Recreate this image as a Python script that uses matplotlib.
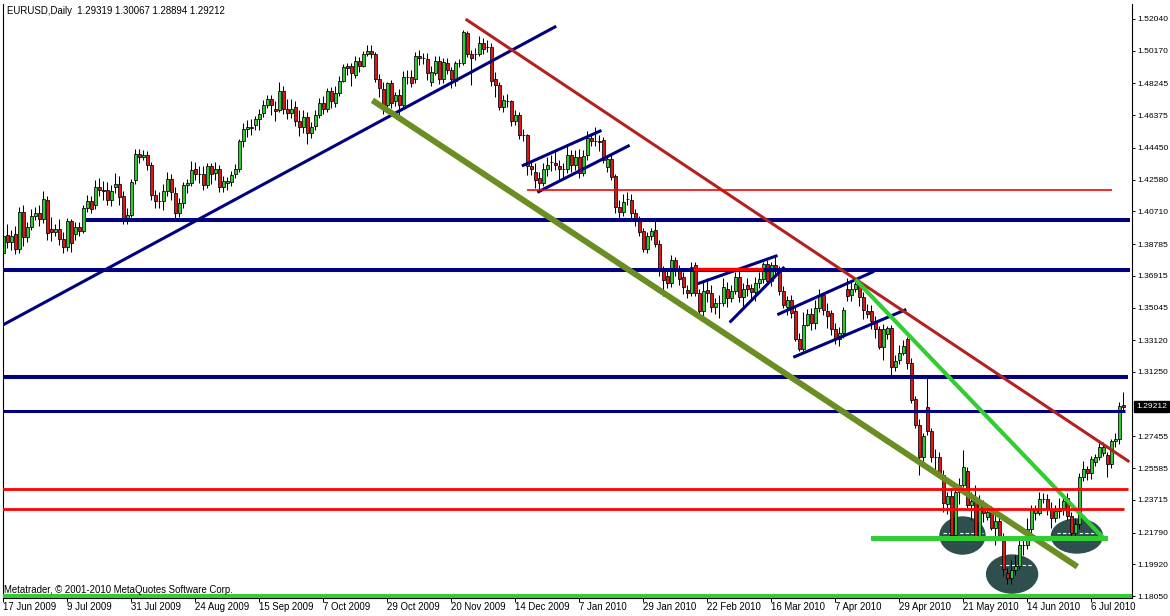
import numpy as np
import matplotlib
matplotlib.use("Agg")
from matplotlib import pyplot as plt
from matplotlib.patches import Ellipse

plt.rcParams['font.family'] = ['Liberation Sans', 'DejaVu Sans']

# EURUSD daily, 17 Jun 2009 .. 14 Jul 2010
date_labels = ["17 Jun 2009", "9 Jul 2009", "31 Jul 2009", "24 Aug 2009", "15 Sep 2009",
               "7 Oct 2009", "29 Oct 2009", "20 Nov 2009", "14 Dec 2009", "7 Jan 2010",
               "29 Jan 2010", "22 Feb 2010", "16 Mar 2010", "7 Apr 2010", "29 Apr 2010",
               "21 May 2010", "14 Jun 2010", "6 Jul 2010"]

opens = [
    1.3826, 1.3932, 1.3891, 1.3938, 1.3849, 1.4067, 1.3920, 1.3979, 1.4044, 1.4061,
    1.4026, 1.4138, 1.3967, 1.3949, 1.3967, 1.3908, 1.3861, 1.4014, 1.3938, 1.3979,
    1.3955, 1.4091, 1.4132, 1.4108, 1.4214, 1.4197, 1.4197, 1.4138, 1.4214, 1.4232,
    1.4161, 1.4020, 1.4050, 1.4256, 1.4409, 1.4391, 1.4403, 1.4344, 1.4167, 1.4132,
    1.4132, 1.4191, 1.4262, 1.4179, 1.4061, 1.4120, 1.4226, 1.4238, 1.4320, 1.4291,
    1.4291, 1.4226, 1.4338, 1.4297, 1.4320, 1.4214, 1.4238, 1.4244, 1.4291, 1.4320,
    1.4485, 1.4556, 1.4568, 1.4580, 1.4615, 1.4650, 1.4697, 1.4733, 1.4674, 1.4668,
    1.4780, 1.4674, 1.4650, 1.4686, 1.4603, 1.4568, 1.4627, 1.4533, 1.4574, 1.4639,
    1.4709, 1.4674, 1.4780, 1.4709, 1.4768, 1.4839, 1.4927, 1.4927, 1.4874, 1.4957,
    1.4927, 1.4998, 1.5016, 1.4998, 1.4851, 1.4792, 1.4697, 1.4827, 1.4721, 1.4756,
    1.4697, 1.4862, 1.4862, 1.4851, 1.4986, 1.4974, 1.4968, 1.4833, 1.4886, 1.4957,
    1.4851, 1.4945, 1.4904, 1.4839, 1.4945, 1.4945, 1.5122, 1.4998, 1.4998, 1.4998,
    1.5063, 1.5039, 1.5039, 1.4851, 1.4815, 1.4686, 1.4721, 1.4721, 1.4603, 1.4639,
    1.4521, 1.4521, 1.4338, 1.4303, 1.4267, 1.4238, 1.4320, 1.4362, 1.4356, 1.4338,
    1.4320, 1.4320, 1.4403, 1.4344, 1.4391, 1.4297, 1.4403, 1.4503, 1.4485, 1.4485,
    1.4491, 1.4332, 1.4379, 1.4279, 1.4097, 1.4067, 1.4144, 1.4138, 1.4061, 1.4020,
    1.3955, 1.3849, 1.3926, 1.3961, 1.3879, 1.3720, 1.3690, 1.3649, 1.3785, 1.3726,
    1.3684, 1.3608, 1.3590, 1.3755, 1.3590, 1.3484, 1.3608, 1.3590, 1.3508, 1.3531,
    1.3531, 1.3614, 1.3561, 1.3602, 1.3684, 1.3567, 1.3637, 1.3620, 1.3596, 1.3649,
    1.3673, 1.3761, 1.3661, 1.3755, 1.3726, 1.3602, 1.3508, 1.3549, 1.3484, 1.3319,
    1.3260, 1.3402, 1.3466, 1.3413, 1.3502, 1.3578, 1.3484, 1.3472, 1.3378, 1.3319,
    1.3355, 1.3614, 1.3578, 1.3614, 1.3649, 1.3567, 1.3484, 1.3484, 1.3425, 1.3378,
    1.3272, 1.3349, 1.3384, 1.3154, 1.3196, 1.3237, 1.3319, 1.3178, 1.2966, 1.2813,
    1.2624, 1.2919, 1.2777, 1.2624, 1.2624, 1.2518, 1.2347, 1.2394, 1.2165, 1.2418,
    1.2459, 1.2542, 1.2341, 1.2365, 1.2153, 1.2330, 1.2271, 1.2300, 1.2206, 1.2247,
    1.2159, 1.1941, 1.1911, 1.1959, 1.1982, 1.2106, 1.2106, 1.2200, 1.2294, 1.2294,
    1.2377, 1.2377, 1.2318, 1.2265, 1.2306, 1.2324, 1.2383, 1.2277, 1.2177, 1.2230,
    1.2506, 1.2553, 1.2530, 1.2595, 1.2624, 1.2648, 1.2636, 1.2583, 1.2718, 1.2730,
    1.29319]

highs = [
    1.3973, 1.3997, 1.3961, 1.3985, 1.4097, 1.4108, 1.4008, 1.4085, 1.4097, 1.4108,
    1.4191, 1.4161, 1.4038, 1.3997, 1.4026, 1.3949, 1.4032, 1.4026, 1.4008, 1.4008,
    1.4108, 1.4167, 1.4161, 1.4256, 1.4267, 1.4250, 1.4244, 1.4226, 1.4297, 1.4279,
    1.4191, 1.4091, 1.4262, 1.4438, 1.4438, 1.4432, 1.4427, 1.4362, 1.4197, 1.4185,
    1.4232, 1.4303, 1.4291, 1.4214, 1.4150, 1.4244, 1.4262, 1.4368, 1.4362, 1.4338,
    1.4338, 1.4356, 1.4356, 1.4362, 1.4344, 1.4279, 1.4273, 1.4309, 1.4350, 1.4497,
    1.4591, 1.4609, 1.4615, 1.4633, 1.4674, 1.4727, 1.4756, 1.4756, 1.4721, 1.4833,
    1.4809, 1.4733, 1.4733, 1.4721, 1.4668, 1.4668, 1.4656, 1.4597, 1.4668, 1.4739,
    1.4750, 1.4798, 1.4803, 1.4809, 1.4868, 1.4939, 1.4945, 1.4945, 1.4986, 1.4980,
    1.5016, 1.5051, 1.5051, 1.5010, 1.4880, 1.4833, 1.4833, 1.4845, 1.4774, 1.4792,
    1.4898, 1.4904, 1.4904, 1.5010, 1.5021, 1.5004, 1.5004, 1.4927, 1.4986, 1.4986,
    1.4974, 1.4974, 1.4921, 1.4957, 1.4968, 1.5139, 1.5133, 1.5021, 1.5033, 1.5104,
    1.5092, 1.5080, 1.5063, 1.4892, 1.4833, 1.4756, 1.4762, 1.4727, 1.4668, 1.4656,
    1.4556, 1.4527, 1.4374, 1.4356, 1.4303, 1.4356, 1.4391, 1.4403, 1.4432, 1.4374,
    1.4356, 1.4456, 1.4432, 1.4432, 1.4438, 1.4432, 1.4544, 1.4527, 1.4568, 1.4521,
    1.4509, 1.4391, 1.4403, 1.4291, 1.4138, 1.4173, 1.4185, 1.4173, 1.4085, 1.4044,
    1.3973, 1.3949, 1.3973, 1.4020, 1.3902, 1.3749, 1.3726, 1.3814, 1.3802, 1.3755,
    1.3714, 1.3637, 1.3773, 1.3773, 1.3614, 1.3661, 1.3678, 1.3637, 1.3561, 1.3578,
    1.3678, 1.3655, 1.3637, 1.3714, 1.3726, 1.3649, 1.3678, 1.3643, 1.3684, 1.3714,
    1.3773, 1.3785, 1.3773, 1.3814, 1.3749, 1.3631, 1.3572, 1.3578, 1.3514, 1.3355,
    1.3478, 1.3496, 1.3502, 1.3549, 1.3614, 1.3590, 1.3531, 1.3490, 1.3413, 1.3390,
    1.3508, 1.3678, 1.3655, 1.3673, 1.3667, 1.3596, 1.3525, 1.3519, 1.3455, 1.3396,
    1.3408, 1.3396, 1.3402, 1.3225, 1.3284, 1.3313, 1.3331, 1.3207, 1.2983, 1.2848,
    1.2766, 1.3089, 1.2795, 1.2671, 1.2654, 1.2548, 1.2418, 1.2442, 1.2453, 1.2500,
    1.2665, 1.2565, 1.2418, 1.2459, 1.2400, 1.2371, 1.2341, 1.2336, 1.2283, 1.2271,
    1.2177, 1.1970, 1.2018, 1.2047, 1.2147, 1.2159, 1.2265, 1.2341, 1.2341, 1.2418,
    1.2412, 1.2406, 1.2359, 1.2341, 1.2383, 1.2394, 1.2412, 1.2300, 1.2265, 1.2530,
    1.2601, 1.2571, 1.2630, 1.2642, 1.2713, 1.2713, 1.2654, 1.2730, 1.2766, 1.2948,
    1.30067]

lows = [
    1.3796, 1.3855, 1.3843, 1.3820, 1.3826, 1.3867, 1.3891, 1.3961, 1.4020, 1.3985,
    1.4002, 1.3902, 1.3896, 1.3926, 1.3873, 1.3826, 1.3838, 1.3832, 1.3902, 1.3926,
    1.3944, 1.4067, 1.4061, 1.4085, 1.4161, 1.4138, 1.4108, 1.4103, 1.4179, 1.4108,
    1.3997, 1.3997, 1.4038, 1.4232, 1.4356, 1.4374, 1.4315, 1.4138, 1.4091, 1.4091,
    1.4079, 1.4161, 1.4138, 1.4032, 1.4038, 1.4091, 1.4179, 1.4220, 1.4256, 1.4238,
    1.4197, 1.4209, 1.4232, 1.4256, 1.4185, 1.4185, 1.4197, 1.4220, 1.4267, 1.4303,
    1.4450, 1.4509, 1.4521, 1.4550, 1.4550, 1.4627, 1.4680, 1.4639, 1.4603, 1.4656,
    1.4644, 1.4615, 1.4621, 1.4574, 1.4515, 1.4533, 1.4468, 1.4503, 1.4550, 1.4621,
    1.4644, 1.4656, 1.4680, 1.4686, 1.4750, 1.4833, 1.4874, 1.4809, 1.4856, 1.4892,
    1.4921, 1.4986, 1.4974, 1.4833, 1.4745, 1.4644, 1.4656, 1.4680, 1.4692, 1.4615,
    1.4686, 1.4821, 1.4803, 1.4827, 1.4933, 1.4939, 1.4845, 1.4809, 1.4874, 1.4821,
    1.4827, 1.4880, 1.4798, 1.4809, 1.4921, 1.4933, 1.4980, 1.4815, 1.4963, 1.4986,
    1.4998, 1.5010, 1.4809, 1.4745, 1.4668, 1.4656, 1.4686, 1.4574, 1.4580, 1.4497,
    1.4485, 1.4285, 1.4285, 1.4209, 1.4185, 1.4220, 1.4279, 1.4309, 1.4315, 1.4256,
    1.4267, 1.4297, 1.4303, 1.4315, 1.4267, 1.4279, 1.4374, 1.4456, 1.4456, 1.4427,
    1.4356, 1.4303, 1.4256, 1.4061, 1.4020, 1.4044, 1.4108, 1.4026, 1.3985, 1.3926,
    1.3832, 1.3826, 1.3902, 1.3861, 1.3690, 1.3572, 1.3620, 1.3625, 1.3690, 1.3637,
    1.3584, 1.3561, 1.3572, 1.3572, 1.3443, 1.3437, 1.3537, 1.3478, 1.3466, 1.3443,
    1.3514, 1.3508, 1.3537, 1.3584, 1.3537, 1.3496, 1.3572, 1.3549, 1.3543, 1.3620,
    1.3649, 1.3643, 1.3631, 1.3690, 1.3578, 1.3502, 1.3461, 1.3443, 1.3307, 1.3249,
    1.3249, 1.3396, 1.3372, 1.3378, 1.3478, 1.3461, 1.3384, 1.3343, 1.3290, 1.3278,
    1.3325, 1.3543, 1.3543, 1.3596, 1.3514, 1.3437, 1.3443, 1.3378, 1.3325, 1.3260,
    1.3196, 1.3319, 1.3107, 1.3131, 1.3172, 1.3225, 1.3142, 1.2942, 1.2795, 1.2518,
    1.2577, 1.2754, 1.2595, 1.2548, 1.2500, 1.2300, 1.2288, 1.2147, 1.2147, 1.2347,
    1.2447, 1.2324, 1.2253, 1.2141, 1.2141, 1.2241, 1.2253, 1.2194, 1.2106, 1.2135,
    1.1923, 1.1876, 1.1876, 1.1929, 1.1964, 1.2047, 1.2082, 1.2165, 1.2253, 1.2283,
    1.2353, 1.2283, 1.2206, 1.2241, 1.2265, 1.2283, 1.2253, 1.2135, 1.2159, 1.2200,
    1.2483, 1.2489, 1.2495, 1.2571, 1.2607, 1.2630, 1.2506, 1.2559, 1.2683, 1.2701,
    1.28894]

closes = [
    1.3926, 1.3891, 1.3926, 1.3849, 1.4067, 1.3920, 1.3979, 1.4044, 1.4061, 1.4026,
    1.4144, 1.3944, 1.3949, 1.3967, 1.3908, 1.3861, 1.4014, 1.3885, 1.3979, 1.3955,
    1.4091, 1.4132, 1.4085, 1.4214, 1.4197, 1.4191, 1.4138, 1.4191, 1.4232, 1.4156,
    1.4026, 1.4050, 1.4244, 1.4409, 1.4391, 1.4403, 1.4344, 1.4167, 1.4132, 1.4131,
    1.4191, 1.4262, 1.4185, 1.4061, 1.4120, 1.4226, 1.4238, 1.4315, 1.4291, 1.4290,
    1.4226, 1.4338, 1.4291, 1.4320, 1.4214, 1.4250, 1.4250, 1.4285, 1.4320, 1.4485,
    1.4556, 1.4568, 1.4562, 1.4615, 1.4644, 1.4697, 1.4733, 1.4697, 1.4662, 1.4780,
    1.4674, 1.4650, 1.4674, 1.4603, 1.4568, 1.4627, 1.4533, 1.4568, 1.4639, 1.4709,
    1.4674, 1.4780, 1.4721, 1.4768, 1.4839, 1.4921, 1.4915, 1.4886, 1.4957, 1.4927,
    1.4998, 1.5016, 1.4998, 1.4851, 1.4798, 1.4697, 1.4827, 1.4709, 1.4756, 1.4697,
    1.4862, 1.4861, 1.4827, 1.4986, 1.4974, 1.4973, 1.4886, 1.4892, 1.4957, 1.4851,
    1.4951, 1.4904, 1.4851, 1.4945, 1.4944, 1.5127, 1.4998, 1.4974, 1.4997, 1.5063,
    1.5027, 1.5038, 1.4839, 1.4815, 1.4686, 1.4727, 1.4720, 1.4603, 1.4639, 1.4521,
    1.4520, 1.4338, 1.4320, 1.4256, 1.4238, 1.4320, 1.4344, 1.4361, 1.4344, 1.4320,
    1.4319, 1.4403, 1.4344, 1.4391, 1.4297, 1.4397, 1.4503, 1.4485, 1.4484, 1.4480,
    1.4374, 1.4379, 1.4273, 1.4097, 1.4067, 1.4126, 1.4143, 1.4061, 1.4020, 1.3949,
    1.3849, 1.3926, 1.3955, 1.3879, 1.3720, 1.3667, 1.3649, 1.3785, 1.3726, 1.3673,
    1.3625, 1.3590, 1.3743, 1.3590, 1.3484, 1.3602, 1.3590, 1.3508, 1.3531, 1.3530,
    1.3625, 1.3561, 1.3602, 1.3684, 1.3567, 1.3614, 1.3614, 1.3596, 1.3649, 1.3673,
    1.3761, 1.3661, 1.3755, 1.3726, 1.3602, 1.3519, 1.3549, 1.3472, 1.3319, 1.3260,
    1.3402, 1.3466, 1.3413, 1.3502, 1.3578, 1.3490, 1.3455, 1.3378, 1.3319, 1.3355,
    1.3490, 1.3572, 1.3614, 1.3643, 1.3567, 1.3490, 1.3466, 1.3425, 1.3378, 1.3272,
    1.3378, 1.3384, 1.3154, 1.3190, 1.3237, 1.3278, 1.3178, 1.2960, 1.2813, 1.2624,
    1.2748, 1.2777, 1.2624, 1.2623, 1.2518, 1.2353, 1.2394, 1.2165, 1.2418, 1.2459,
    1.2565, 1.2341, 1.2365, 1.2153, 1.2365, 1.2294, 1.2300, 1.2206, 1.2247, 1.2159,
    1.1964, 1.1911, 1.1959, 1.1982, 1.2106, 1.2105, 1.2200, 1.2318, 1.2318, 1.2377,
    1.2376, 1.2318, 1.2265, 1.2306, 1.2324, 1.2365, 1.2277, 1.2177, 1.2230, 1.2506,
    1.2553, 1.2530, 1.2612, 1.2624, 1.2683, 1.2683, 1.2583, 1.2718, 1.2730, 1.2925,
    1.29212]

price_ticks = [1.52040, 1.50170, 1.48245, 1.46375, 1.44450, 1.42580, 1.40710, 1.38785,
               1.36915, 1.35045, 1.33120, 1.31250, 1.27455, 1.25585, 1.23715, 1.21790,
               1.19920, 1.18050]

# drawn objects: (bar0, price0, bar1, price1)
hlines_navy = [(20.7, 1.4020, 281.7), (-1, 1.3726, 281.7), (-1, 1.3095, 281.2)]
hline_navy_thin = (-1, 1.2895, 280.4)
hlines_red = [(-1, 1.2436, 281.2, 2.0), (-1, 1.2318, 280.2, 2.0),
              (131, 1.4197, 277.2, 1.2), (172.4, 1.3732, 189.9, 2.4)]
navy_trend = (-0.1, 1.3402, 137.9, 1.5157)
channels = [(130.0, 1.4342, 149.2, 1.4544), (133.85, 1.4187, 156.25, 1.4456),
            (173.85, 1.3647, 193.2, 1.3808), (181.85, 1.3423, 195.0, 1.3737),
            (193.85, 1.3466, 217.35, 1.3714), (197.85, 1.3215, 225.4, 1.3490)]
brown_trend = (115.9, 1.5198, 281.2, 1.2601)
olive_trend = (92.9, 1.4715, 267.9, 1.1988)
lime_trend = (213.4, 1.3660, 274.9, 1.2150)
lime_neck = (217.4, 1.2147, 275.4, 1.2147)
ellipses = [(239.8, 1.2162, 11.25, 0.0218), (252.2, 1.1935, 12.75, 0.0224),
            (268.4, 1.2159, 12.75, 0.0200)]
dash_segs = [(234.9, 1.2177, 244.9), (249.2, 1.1988, 257.4), (263.4, 1.2177, 273.4)]

o = np.array(opens)
h = np.array(highs)
l = np.array(lows)
c = np.array(closes)
bars = np.arange(len(c))

fig = plt.figure(figsize=(11.7, 6.16), dpi=100)
ax = fig.add_axes([2.5 / 1170, 18 / 616, 1129.5 / 1170, 594 / 616])
ax.set_xlim(-0.2, 282.175)
ax.set_ylim(1.1794, 1.5292)

# candles
up = c >= o
ax.vlines(bars, l, h, color='black', lw=0.75, zorder=2)
ax.bar(bars, c - o, bottom=o, width=0.78, color=np.where(up, '#2ecc2e', '#e01414'),
       edgecolor='black', linewidth=0.55, zorder=2.5)

# chart objects
for e in ellipses:
    ax.add_patch(Ellipse((e[0], e[1]), e[2], e[3], color='#2f4f4f', zorder=1))
for s in dash_segs:
    ax.plot([s[0], s[2]], [s[1], s[1]], color='white', lw=0.8, ls=(0, (3, 2)), zorder=1.5)

ax.axhline(1.1805, color='#33cc33', lw=3.6, zorder=3)
for s in hlines_navy:
    ax.plot([s[0], s[2]], [s[1], s[1]], color='#000080', lw=2.9, solid_capstyle='butt', zorder=3)
ax.plot([hline_navy_thin[0], hline_navy_thin[2]], [hline_navy_thin[1]] * 2, color='#000080',
        lw=2.2, solid_capstyle='butt', zorder=3)
for s in hlines_red:
    ax.plot([s[0], s[2]], [s[1], s[1]], color='#ff0000', lw=s[3], solid_capstyle='butt', zorder=3.2)

ax.plot(navy_trend[0::2], navy_trend[1::2], color='#000080', lw=2.2, zorder=3)
for s in channels:
    ax.plot(s[0::2], s[1::2], color='#000080', lw=2.2, zorder=3)
ax.plot(brown_trend[0::2], brown_trend[1::2], color='#b22222', lw=2.2, zorder=3)
ax.plot(olive_trend[0::2], olive_trend[1::2], color='#6b8e23', lw=4.3, zorder=3)
ax.plot(lime_trend[0::2], lime_trend[1::2], color='#32cd32', lw=3.0, zorder=3)
ax.plot(lime_neck[0::2], lime_neck[1::2], color='#32cd32', lw=3.6, zorder=3)

# axes look
ax.spines['top'].set_visible(False)
for side in ['left', 'right', 'bottom']:
    ax.spines[side].set_linewidth(0.8)

fs = 6.9
fs_y = 6.1
ax.set_xticks(np.arange(0, len(c), 16))
ax.set_xticklabels(date_labels, ha='left', fontsize=fs)
ax.tick_params(axis='x', length=2.6, width=0.7, pad=0.6)

ax.yaxis.tick_right()
ax.set_yticks(price_ticks)
ax.set_yticklabels(['%.5f' % v for v in price_ticks], fontsize=fs_y)
ax.tick_params(axis='y', length=2.2, width=0.7, pad=1.3)

ax.annotate('%.5f' % closes[-1], xy=(1.0, closes[-1]), xycoords=('axes fraction', 'data'),
            xytext=(3.0, 0), textcoords='offset points', ha='left', va='center',
            color='white', fontsize=fs_y, annotation_clip=False,
            bbox=dict(boxstyle='square,pad=0.22', fc='black', ec='black'))

fig.text(7 / 1170, 1 - 11 / 616, 'EURUSD,Daily  %.5f %.5f %.5f %.5f' % (opens[-1], highs[-1], lows[-1], closes[-1]),
         va='center', ha='left', fontsize=fs)
fig.text(4 / 1170, 1 - 590 / 616, 'Metatrader, \u00a9 2001-2010 MetaQuotes Software Corp.',
         va='center', ha='left', fontsize=fs)

fig.savefig('out.png', dpi=100, facecolor='white')
